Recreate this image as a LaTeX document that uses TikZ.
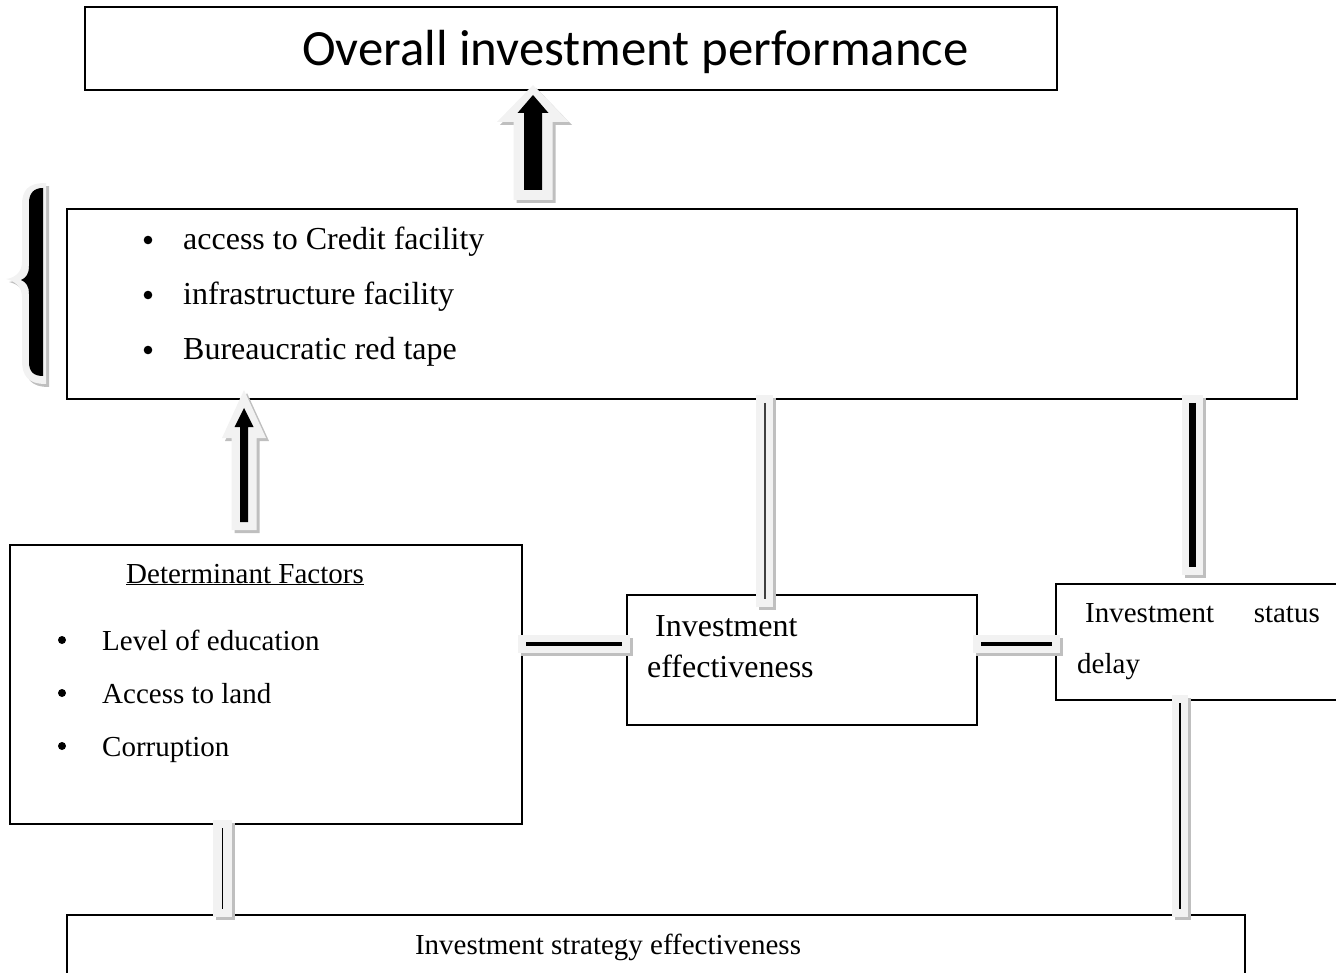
\documentclass[tikz,border=0pt]{standalone}
\usepackage{fontspec}
\setmainfont{Liberation Serif}
\newfontfamily\calibfont{Carlito}
\usetikzlibrary{calc}
\definecolor{lightfill}{HTML}{F2F2F2}
\definecolor{shadowgray}{HTML}{BFBFBF}
\definecolor{darkline}{HTML}{404040}
\tikzset{
  box/.style={draw=black, line width=1.4pt, anchor=north west, inner sep=0pt, outer sep=0pt},
  bigtxt/.style={font=\fontsize{32}{38}\selectfont, anchor=base west, inner sep=0pt},
  smalltxt/.style={font=\fontsize{29}{35}\selectfont, anchor=base west, inner sep=0pt},
  titletxt/.style={font=\calibfont\fontsize{50.8}{60}\selectfont, anchor=base west, inner sep=0pt},
  connbody/.style={fill=lightfill},
  connshadow/.style={fill=shadowgray},
  bulletdot/.style={fill=black},
  thininner/.style={draw=black, line width=1.5pt},
  grayinner/.style={draw=darkline, line width=2pt},
  thickinner/.style={draw=black, line width=7pt},
  medinner/.style={draw=black, line width=4pt},
}
% vertical connector: #1 x-coordinate name, #2 upper anchor, #3 lower anchor,
% #4 half width, #5 top extension, #6 bottom extension, #7 inner style
\newcommand\vconnector[7]{%
  \coordinate (ca) at (#1 |- #2);
  \coordinate (cb) at (#1 |- #3);
  \fill[connshadow] ($(ca)+(-#4+3,-#5+3)$) rectangle ($(cb)+(#4+3,#6+3)$);
  \fill[connbody] ($(ca)+(-#4,-#5)$) rectangle ($(cb)+(#4,#6)$);
  \draw[#7] ($(ca)+(0,-#5+8)$) -- ($(cb)+(0,#6-8)$);
}
% horizontal connector: #1 y-coordinate name, #2 left anchor, #3 right anchor,
% #4 half height, #5 left extension, #6 right extension, #7 inner style
\newcommand\hconnector[7]{%
  \coordinate (ca) at (#1 -| #2);
  \coordinate (cb) at (#1 -| #3);
  \fill[connshadow] ($(ca)+(-#5+3,-#4+3)$) rectangle ($(cb)+(#6+3,#4+3)$);
  \fill[connbody] ($(ca)+(-#5,-#4)$) rectangle ($(cb)+(#6,#4)$);
  \draw[#7] ($(ca)+(-#5+8,0)$) -- ($(cb)+(#6-8,0)$);
}
\begin{document}
\begin{tikzpicture}[x=1pt,y=-1pt]
\useasboundingbox (0,0) rectangle (1336,973);
\clip (0,0) rectangle (1336,973);

% boxes
\node[box, minimum width=972pt, minimum height=83pt] (top) at (85,7) {};
\node[box, minimum width=1230pt, minimum height=190pt] (b2) at (67,209) {};
\node[box, minimum width=512pt, minimum height=279pt] (det) at (10,545) {};
\node[box, minimum width=350pt, minimum height=130pt] (eff) at (627,595) {};
\node[box, minimum width=320pt, minimum height=116pt] (status) at (1056,584) {};
\node[box, minimum width=1178pt, minimum height=120pt] (strat) at (67,915) {};

% texts
\node[titletxt] (ttl) at (302,66) {Overall investment performance};

\node[bigtxt] (f1) at (183,250) {access to Credit facility};
\node[bigtxt] (f2) at (183,305) {infrastructure facility};
\node[bigtxt] (f3) at (183,360) {Bureaucratic red tape};
\fill[bulletdot] (148,240) circle (4.3);
\fill[bulletdot] (148,295) circle (4.3);
\fill[bulletdot] (148,350) circle (4.3);

\node[smalltxt] (dh) at (126,583) {\underline{Determinant Factors}};
\node[smalltxt] (d1) at (102,650) {Level of education};
\node[smalltxt] (d2) at (102,703) {Access to land};
\node[smalltxt] (d3) at (102,756) {Corruption};
\fill[bulletdot] (62,640) circle (4);
\fill[bulletdot] (62,693) circle (4);
\fill[bulletdot] (62,746) circle (4);

\node[bigtxt] (e1) at (655,636) {Investment};
\node[bigtxt] (e2) at (647,677) {effectiveness};

\node[smalltxt] (s1) at (1085,622) {Investment};
\node[smalltxt, anchor=base east] (s2) at (1320,622) {status};
\node[smalltxt] (s3) at (1077,673) {delay};

\node[smalltxt, anchor=base] (st) at (608,954) {Investment strategy effectiveness};

% connectors
\coordinate (kx1) at (764.5,0);
\coordinate (kx2) at (1192.5,0);
\coordinate (kx3) at (222.5,0);
\coordinate (kx4) at (1180,0);
\coordinate (ky1) at (0,644);
\vconnector{kx1}{b2.south}{eff.north}{8.5}{4}{12}{grayinner}
\vconnector{kx2}{b2.south}{status.north}{10.5}{4}{-9}{thickinner}
\vconnector{kx3}{det.south}{strat.north}{9.5}{4}{2}{thininner}
\vconnector{kx4}{status.south}{strat.north}{8}{5}{2}{thininner}
\hconnector{ky1}{det.east}{eff.west}{9}{4}{3}{medinner}
\hconnector{ky1}{eff.east}{status.west}{9}{4}{4}{medinner}

% block arrow 1 (b2 -> top)
\coordinate (a1x) at (533,0);
\coordinate (a1) at ($(a1x |- b2.north)+(0,-9)$);
\begin{scope}[shift={(a1)}]
  \fill[connshadow, shift={(3,3)}] (-19.5,0) -- (-19.5,-78) -- (-36,-78) -- (0,-115) -- (36,-78) -- (19.5,-78) -- (19.5,0) -- cycle;
  \fill[connbody] (-19.5,0) -- (-19.5,-78) -- (-36,-78) -- (0,-115) -- (36,-78) -- (19.5,-78) -- (19.5,0) -- cycle;
  \fill[black] (-9,-10) -- (-9,-87) -- (-15.5,-87) -- (0,-105) -- (15.5,-87) -- (9,-87) -- (9,-10) -- cycle;
\end{scope}

% block arrow 2 (det -> b2)
\coordinate (a2x) at (244,0);
\coordinate (a2) at ($(a2x |- det.north)+(0,-15)$);
\begin{scope}[shift={(a2)}]
  \fill[connshadow, shift={(3,3)}] (-12.5,0) -- (-12.5,-92) -- (-22,-92) -- (0,-140) -- (22,-92) -- (12.5,-92) -- (12.5,0) -- cycle;
  \fill[connbody] (-12.5,0) -- (-12.5,-92) -- (-22,-92) -- (0,-140) -- (22,-92) -- (12.5,-92) -- (12.5,0) -- cycle;
  \fill[black] (-4,-8) -- (-4,-103) -- (-9.5,-103) -- (0,-122) -- (9.5,-103) -- (4,-103) -- (4,-8) -- cycle;
\end{scope}

% brace
\fill[connshadow, shift={(3,3)}] (46,183) .. controls (28,183) and (22,190) .. (22,205) -- (22,262) .. controls (22,272) and (15,278) .. (6,279) .. controls (15,281) and (22,287) .. (22,297) -- (22,360) .. controls (22,376) and (28,384) .. (46,384) -- cycle;
\fill[connbody] (46,183) .. controls (28,183) and (22,190) .. (22,205) -- (22,262) .. controls (22,272) and (15,278) .. (6,279) .. controls (15,281) and (22,287) .. (22,297) -- (22,360) .. controls (22,376) and (28,384) .. (46,384) -- cycle;
\fill[black] (43,188) .. controls (34,188) and (29,193) .. (29,203) -- (29,266) .. controls (29,274) and (26,278) .. (21,280) .. controls (26,282) and (29,286) .. (29,294) -- (29,362) .. controls (29,372) and (34,376) .. (43,376) -- cycle;
\end{tikzpicture}
\end{document}
